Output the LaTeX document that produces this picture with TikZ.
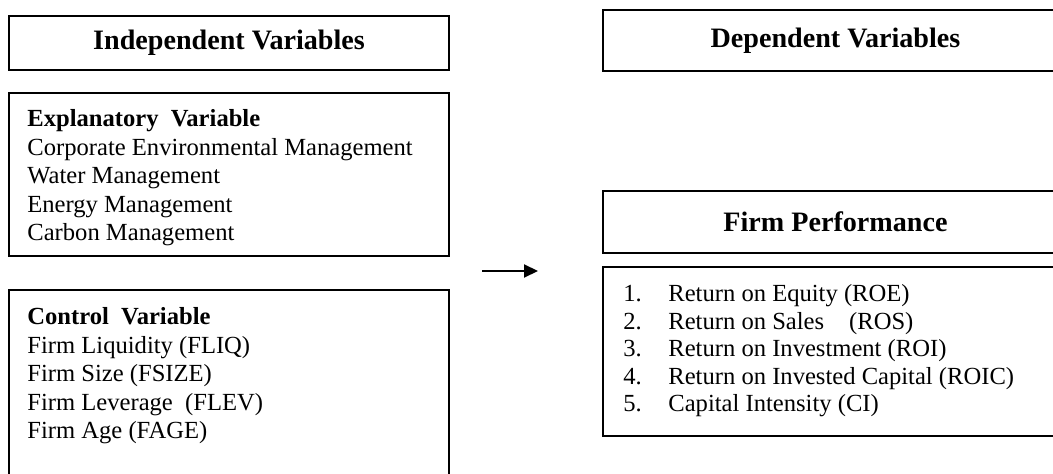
\documentclass[tikz,border=0pt]{standalone}
\usepackage{fontspec}
\setmainfont{Liberation Serif}
\usetikzlibrary{arrows.meta}

\begin{document}
\begin{tikzpicture}[
    box/.style={rectangle, draw=black, line width=1.1pt, inner sep=0pt},
    header/.style={box, align=center, font=\fontsize{16}{19}\selectfont\bfseries},
    boxtext/.style={anchor=north west, inner sep=0pt, align=left, font=\fontsize{14}{16.2}\selectfont},
    arrow/.style={-{Triangle[length=0.28cm, width=0.26cm]}, line width=1.2pt}
]
    \clip (0,0) rectangle (21.06,9.46);

    % Independent Variables
    \node[header, minimum width=8.8cm, minimum height=1.08cm] (indep) at (4.58, 8.60) {Independent Variables};

    % Explanatory Variable
    \node[box, minimum width=8.8cm, minimum height=3.26cm] (expl) at (4.58, 5.97) {};
    \node[boxtext] (expltext) at ([xshift=0.38cm, yshift=-0.35cm]expl.north west)
        {\textbf{Explanatory\ \ Variable}\\Corporate Environmental Management\\Water Management\\Energy Management\\Carbon Management};

    % Control Variable (runs off the bottom)
    \node[box, minimum width=8.8cm, minimum height=4.16cm] (ctrl) at (4.58, 1.58) {};
    \node[boxtext] (ctrltext) at ([xshift=0.38cm, yshift=-0.37cm]ctrl.north west)
        {\textbf{Control\ \ Variable}\\Firm Liquidity (FLIQ)\\Firm Size (FSIZE)\\Firm Leverage\ \ (FLEV)\\Firm Age (FAGE)};

    % Dependent Variables
    \node[header, minimum width=9.3cm, minimum height=1.22cm] (dep) at (16.71, 8.65) {Dependent Variables};

    % Firm Performance
    \node[header, minimum width=9.3cm, minimum height=1.24cm] (perf) at (16.71, 5.02) {Firm Performance};

    % Measures
    \node[box, minimum width=9.3cm, minimum height=3.38cm] (meas) at (16.71, 2.43) {};
    \node[boxtext, font=\fontsize{14}{15.6}\selectfont] (meastext) at ([xshift=0.42cm, yshift=-0.37cm]meas.north west)
        {\makebox[0.9cm][l]{1.}Return on Equity (ROE)\\
         \makebox[0.9cm][l]{2.}Return on Sales\hspace{0.5cm}(ROS)\\
         \makebox[0.9cm][l]{3.}Return on Investment (ROI)\\
         \makebox[0.9cm][l]{4.}Return on Invested Capital (ROIC)\\
         \makebox[0.9cm][l]{5.}Capital Intensity (CI)};

    % Arrow
    \coordinate (arrowstart) at (9.64, 4.04);
    \coordinate (arrowend) at (10.76, 4.04);
    \draw[arrow] (arrowstart) -- (arrowend);

\end{tikzpicture}
\end{document}
